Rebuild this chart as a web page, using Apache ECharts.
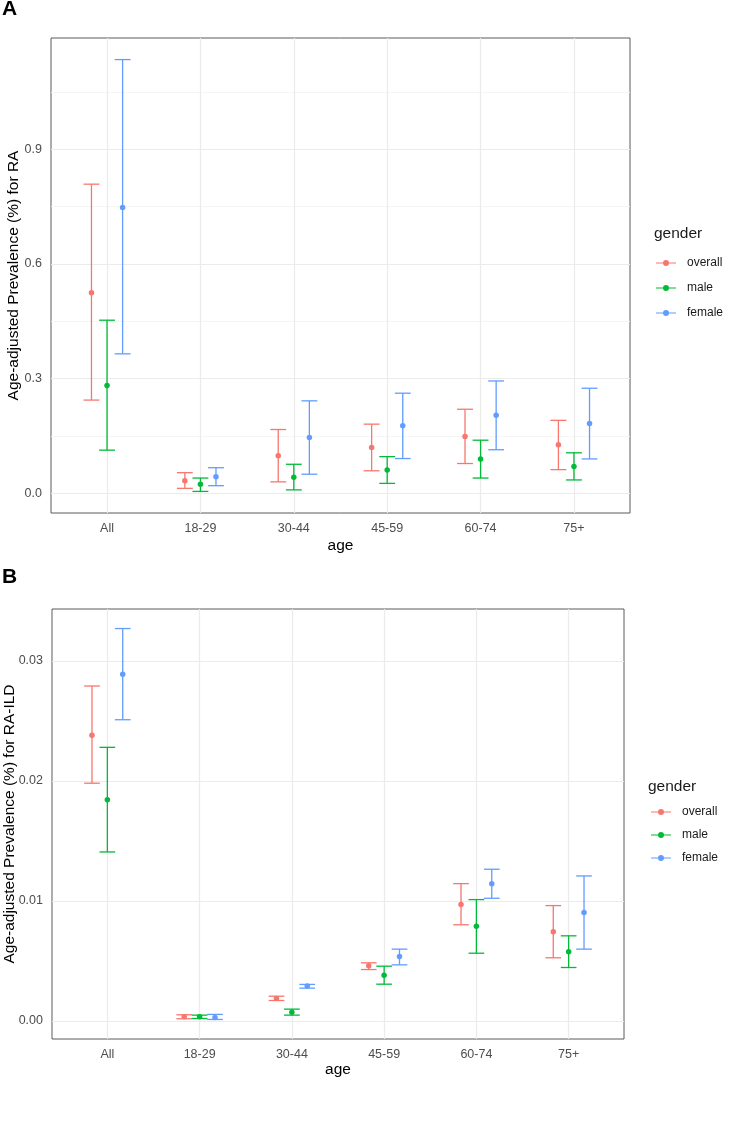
<!DOCTYPE html>
<html>
<head>
<meta charset="utf-8">
<script src="https://cdn.jsdelivr.net/npm/echarts@6/dist/echarts.min.js"></script>
<style>
  html, body { margin: 0; padding: 0; background: #fff; }
  #chart { width: 742px; height: 1138px; }
</style>
</head>
<body>
<div id="chart"></div>
<script>
// ---------- data ----------
const categories = ['All', '18-29', '30-44', '45-59', '60-74', '75+'];
const genders = ['overall', 'male', 'female'];

// [lower, estimate, upper] per age category — panel A (RA)
const raOverall = [[0.244, 0.525, 0.809], [0.013, 0.033, 0.054], [0.030, 0.098, 0.167], [0.059, 0.120, 0.181], [0.078, 0.149, 0.220], [0.062, 0.127, 0.191]];
const raMale    = [[0.113, 0.282, 0.453], [0.005, 0.0235, 0.040], [0.009, 0.042, 0.076], [0.026, 0.061, 0.096], [0.040, 0.090, 0.139], [0.035, 0.070, 0.106]];
const raFemale  = [[0.365, 0.748, 1.135], [0.020, 0.0435, 0.067], [0.050, 0.146, 0.242], [0.091, 0.177, 0.262], [0.114, 0.2045, 0.294], [0.090, 0.183, 0.275]];

// [lower, estimate, upper] per age category — panel B (RA-ILD)
const ildOverall = [[0.0198, 0.0238, 0.0279], [0.00017, 0.00033, 0.0005], [0.00169, 0.00186, 0.00205], [0.00427, 0.00458, 0.00483], [0.0080, 0.0097, 0.01143], [0.00525, 0.00741, 0.0096]];
const ildMale    = [[0.01407, 0.01843, 0.02279], [0.00019, 0.00033, 0.00047], [0.00047, 0.00072, 0.00097], [0.00305, 0.0038, 0.00455], [0.00563, 0.00788, 0.0101], [0.00444, 0.00575, 0.00708]];
const ildFemale  = [[0.02509, 0.02889, 0.03269], [0.00011, 0.00028, 0.00053], [0.00272, 0.00289, 0.00303], [0.00466, 0.00536, 0.00597], [0.01021, 0.01143, 0.01263], [0.00597, 0.00902, 0.01207]];

const raTicks = [0, 0.3, 0.6, 0.9];
const raMinorTicks = [0.15, 0.45, 0.75, 1.05];
const ildTicks = [0, 0.01, 0.02, 0.03];
const ildMinorTicks = [0.005, 0.015, 0.025];

// ---------- styling ----------
const colors = { overall: '#F8766D', male: '#00BA38', female: '#619CFF' };
const FONT = "'Liberation Sans', Arial, sans-serif";
const dodge = { overall: -1 / 6, male: 0, female: 1 / 6 };
const capWidth = 0.17;

function paddedExtent(sets) {
  let lo = Infinity, hi = -Infinity;
  sets.forEach(s => s.forEach(r => { lo = Math.min(lo, r[0]); hi = Math.max(hi, r[2]); }));
  const pad = (hi - lo) * 0.05;
  return [lo - pad, hi + pad];
}

const panels = [
  { sets: { overall: raOverall, male: raMale, female: raFemale }, ticks: raTicks, minor: raMinorTicks, dec: 1,
    yName: 'Age-adjusted Prevalence (%) for RA', yGap: 29, xGap: 25,
    grid: { left: 51, top: 38, width: 579, height: 475 } },
  { sets: { overall: ildOverall, male: ildMale, female: ildFemale }, ticks: ildTicks, minor: ildMinorTicks, dec: 2,
    yName: 'Age-adjusted Prevalence (%) for RA-ILD', yGap: 34, xGap: 23,
    grid: { left: 52, top: 609, width: 572, height: 430 } }
];

const grids = [], xAxes = [], yAxes = [], series = [];
const catIdx = categories.map((c, i) => i);

panels.forEach((p, pi) => {
  grids.push(Object.assign({ show: true, borderColor: '#5a5a5a', borderWidth: 1, backgroundColor: '#fff',
                             containLabel: false, outerBoundsMode: 'none' }, p.grid));
  xAxes.push({
    type: 'value', gridIndex: pi, min: -0.6, max: categories.length - 0.4,
    name: 'age', nameLocation: 'middle', nameGap: p.xGap, nameMoveOverlap: false,
    nameTextStyle: { fontFamily: FONT, fontSize: 15.5, color: '#000' },
    axisLine: { show: false },
    axisTick: { show: true, length: 4, customValues: catIdx, lineStyle: { color: '#333', width: 1 } },
    axisLabel: { customValues: catIdx, margin: 9, fontFamily: FONT, fontSize: 12.5, color: '#4d4d4d',
                 formatter: v => categories[Math.round(v)] },
    splitLine: { show: false }
  });
  const ext = paddedExtent(Object.values(p.sets));
  yAxes.push({
    type: 'value', gridIndex: pi, min: ext[0], max: ext[1],
    name: p.yName, nameLocation: 'middle', nameRotate: 90, nameGap: p.yGap, nameMoveOverlap: false,
    nameTextStyle: { fontFamily: FONT, fontSize: 15.5, color: '#000' },
    axisLine: { show: false },
    axisTick: { show: true, length: 4, customValues: p.ticks, lineStyle: { color: '#333', width: 1 } },
    axisLabel: { customValues: p.ticks, margin: 9, fontFamily: FONT, fontSize: 12.5, color: '#4d4d4d',
                 formatter: v => v.toFixed(p.dec) },
    splitLine: { show: false }
  });

  // grid lines drawn with markLine at axis values
  const gl = [];
  p.minor.forEach(v => gl.push({ yAxis: v, lineStyle: { color: '#f2f2f2', width: 0.8 } }));
  p.ticks.forEach(v => gl.push({ yAxis: v, lineStyle: { color: '#ebebeb', width: 1.2 } }));
  catIdx.forEach(v => gl.push({ xAxis: v, lineStyle: { color: '#ebebeb', width: 1.2 } }));
  series.push({
    type: 'line', xAxisIndex: pi, yAxisIndex: pi, data: [], silent: true, z: 1,
    markLine: { z: 1, silent: true, symbol: ['none', 'none'], label: { show: false }, animation: false,
                lineStyle: { type: 'solid' }, data: gl }
  });

  genders.forEach(g => {
    const set = p.sets[g];
    series.push({
      name: g, type: 'custom', xAxisIndex: pi, yAxisIndex: pi, z: 3,
      itemStyle: { color: colors[g] },
      encode: { x: 0, y: [1, 2] },
      data: set.map((r, i) => [i + dodge[g], r[0], r[2]]),
      renderItem: function (params, api) {
        const x = api.value(0), lo = api.value(1), hi = api.value(2);
        const a = api.coord([x, lo]), b = api.coord([x, hi]);
        const half = api.size([capWidth, 0])[0] / 2;
        const st = { stroke: colors[g], lineWidth: 1.3, fill: null };
        return { type: 'group', children: [
          { type: 'line', shape: { x1: a[0], y1: a[1], x2: b[0], y2: b[1] }, style: st },
          { type: 'line', shape: { x1: a[0] - half, y1: a[1], x2: a[0] + half, y2: a[1] }, style: st },
          { type: 'line', shape: { x1: b[0] - half, y1: b[1], x2: b[0] + half, y2: b[1] }, style: st }
        ] };
      }
    });
    series.push({
      name: g, type: 'scatter', xAxisIndex: pi, yAxisIndex: pi, z: 4,
      symbol: 'circle', symbolSize: 5.5,
      itemStyle: { color: colors[g], opacity: 1 },
      data: set.map((r, i) => [i + dodge[g], r[1]])
    });
  });
});

const legendIcon = 'path://M0,2.5 L20,2.5 L20,3.5 L0,3.5 Z M10,0 A3,3 0 1 1 10,6 A3,3 0 1 1 10,0 Z';
function makeLegend(left, top, gap) {
  return {
    orient: 'vertical', left: left, top: top, padding: 0, itemGap: gap,
    itemWidth: 20, itemHeight: 6, selectedMode: false,
    textStyle: { fontFamily: FONT, fontSize: 12, color: '#1a1a1a', lineHeight: 14, padding: [0, 0, 0, 6] },
    data: genders.map(g => ({ name: g, icon: legendIcon, itemStyle: { color: colors[g] } }))
  };
}

const option = {
  animation: false,
  backgroundColor: '#fff',
  title: [
    { text: 'A', left: 2, top: -1, padding: 0, textStyle: { fontFamily: FONT, fontSize: 21, fontWeight: 'bold', color: '#000' } },
    { text: 'B', left: 2, top: 567, padding: 0, textStyle: { fontFamily: FONT, fontSize: 21, fontWeight: 'bold', color: '#000' } },
    { text: 'gender', left: 654, top: 226, padding: 0, textStyle: { fontFamily: FONT, fontSize: 15.5, fontWeight: 'normal', color: '#1a1a1a' } },
    { text: 'gender', left: 648, top: 779, padding: 0, textStyle: { fontFamily: FONT, fontSize: 15.5, fontWeight: 'normal', color: '#1a1a1a' } }
  ],
  legend: [ makeLegend(656, 256, 11), makeLegend(651, 805, 9) ],
  grid: grids,
  xAxis: xAxes,
  yAxis: yAxes,
  series: series
};

const chart = echarts.init(document.getElementById('chart'), null, { renderer: 'canvas' });
chart.setOption(option);
</script>
</body>
</html>
